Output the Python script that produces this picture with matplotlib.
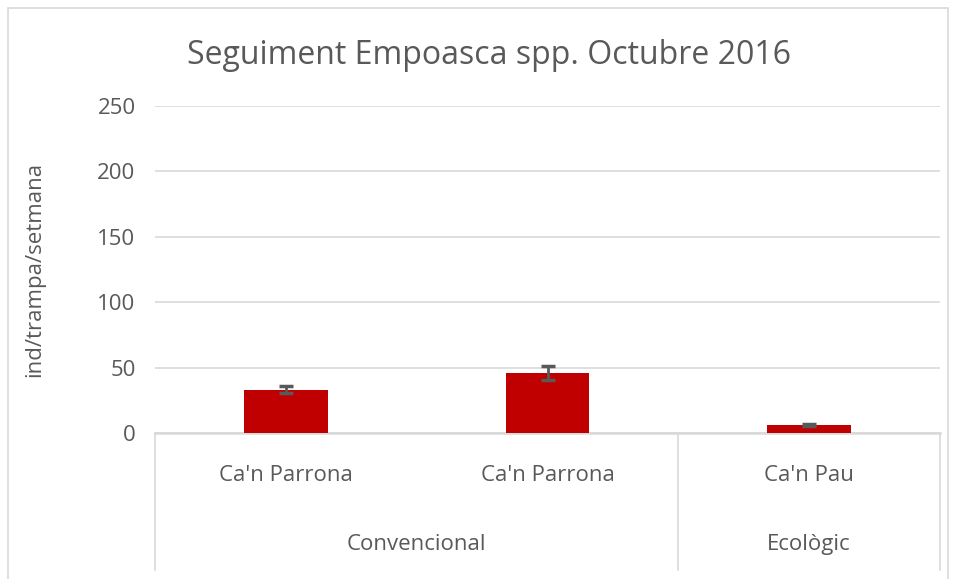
import numpy as np
import matplotlib
matplotlib.use('Agg')
import matplotlib.pyplot as plt
from matplotlib.patches import Rectangle
import matplotlib.transforms as mtransforms

# dades
llocs = ["Ca'n Parrona", "Ca'n Parrona", "Ca'n Pau"]
grups = ["Convencional", "Ecològic"]
grup_mida = [2, 1]
valors = [33, 46, 6]
errors = [2.8, 5.2, 0.8]
yticks = [0, 50, 100, 150, 200, 250]

GRIS = "#d9d9d9"
TEXT = "#595959"
VERMELL = "#C00000"

plt.rcParams['font.family'] = ['Open Sans', 'DejaVu Sans']

W, H = 957, 579
fig = plt.figure(figsize=(W / 100, H / 100), dpi=100)
ax = fig.add_axes([155 / W, 1 - 433 / H, 785 / W, 327 / H])

x = np.arange(len(valors))
ax.bar(x, valors, width=0.32, color=VERMELL, zorder=3)
ax.errorbar(x, valors, yerr=errors, fmt='none', ecolor=TEXT, elinewidth=2,
            capsize=5, capthick=2.5, zorder=4)

ax.set_xlim(-0.5, len(valors) - 0.5)
ax.set_ylim(0, 250)
ax.set_yticks(yticks)
ax.set_yticklabels([str(v) for v in yticks], fontsize=16, color=TEXT)
ax.tick_params(axis='y', length=0, pad=14)
ax.set_xticks([])
ax.grid(axis='y', color=GRIS, linewidth=1.2, zorder=0)
for s in ['top', 'right', 'left']:
    ax.spines[s].set_visible(False)
ax.spines['bottom'].set_color(GRIS)
ax.spines['bottom'].set_linewidth(1.8)

fig.text(35 / W, 1 - 269 / H, "ind/trampa/setmana", rotation=90, ha='center',
         va='center', fontsize=16, color=TEXT)

# eix de categories amb dos nivells
trans = mtransforms.blended_transform_factory(ax.transData, ax.transAxes)
for xi, nom in zip(x, llocs):
    ax.text(xi, -0.13, nom, transform=trans, ha='center', va='center',
            fontsize=16, color=TEXT)
inici = -0.5
ax.plot([inici, inici], [0, -0.419], transform=trans, color=GRIS, lw=1.2, clip_on=False)
for g, n in zip(grups, grup_mida):
    fi = inici + n
    ax.text((inici + fi) / 2, -0.34, g, transform=trans, ha='center', va='center',
            fontsize=16, color=TEXT)
    ax.plot([fi, fi], [0, -0.419], transform=trans, color=GRIS, lw=1.2, clip_on=False)
    inici = fi

fig.text(0.511, 1 - 55 / H, "Seguiment Empoasca spp. Octubre 2016", ha='center',
         va='center', fontsize=23, color=TEXT)

# marc del gràfic
fig.patches.append(Rectangle((8 / W, -0.1), 940 / W, 1.1 - 8 / H,
                             transform=fig.transFigure, fill=False,
                             edgecolor=GRIS, linewidth=1.2))

fig.savefig("out.png", dpi=100)
